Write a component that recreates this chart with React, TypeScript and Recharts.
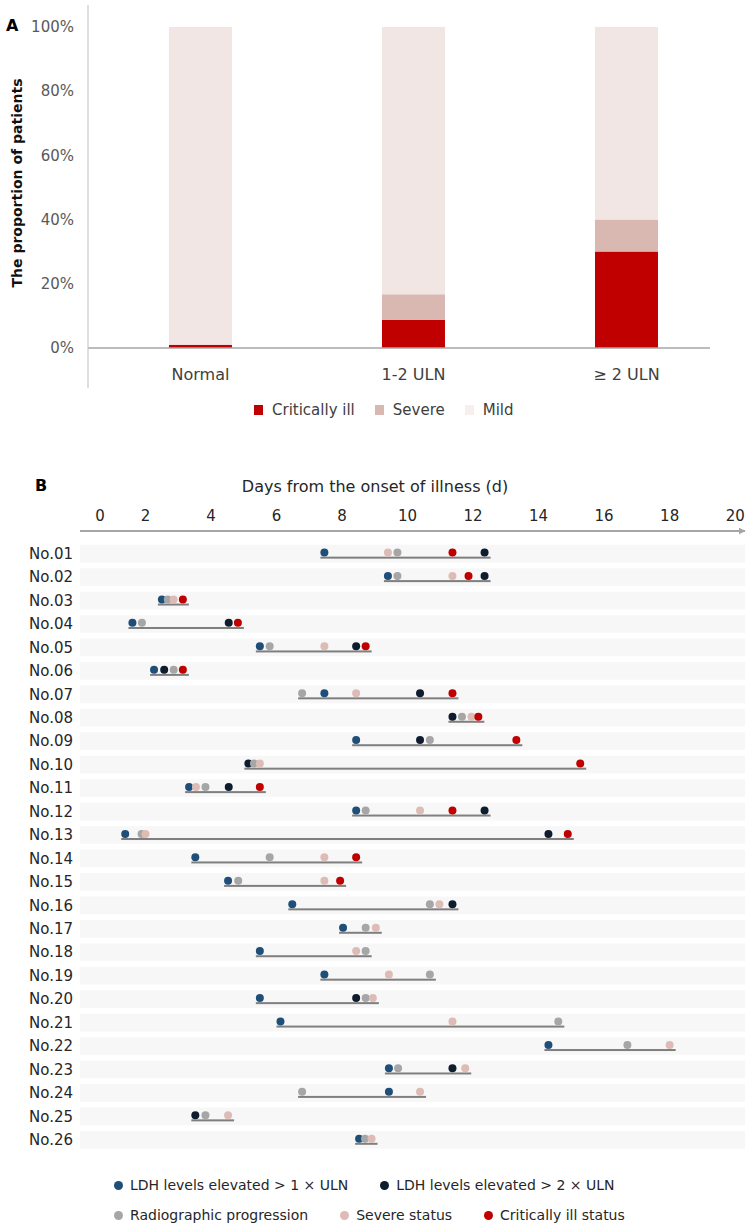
import React from 'react';
import { BarChart, Bar, XAxis, YAxis, ReferenceLine, ComposedChart, Scatter } from 'recharts';

const FONT = '"DejaVu Sans", "Liberation Sans", sans-serif';

// ---- Panel A: proportion of patients by LDH level ----
const ldhGroups = ['Normal', '1-2 ULN', '≥ 2 ULN'];
const criticalPct = [1, 8.7, 30];
const severePct = [0, 8, 10];
const mildPct = [99, 83.3, 60];
const pctTicks = [0, 20, 40, 60, 80, 100];

// ---- Panel B: timeline per patient (days from onset) ----
const patients = [
  'No.01', 'No.02', 'No.03', 'No.04', 'No.05', 'No.06', 'No.07', 'No.08', 'No.09', 'No.10',
  'No.11', 'No.12', 'No.13', 'No.14', 'No.15', 'No.16', 'No.17', 'No.18', 'No.19', 'No.20',
  'No.21', 'No.22', 'No.23', 'No.24', 'No.25', 'No.26',
];
const ldhOver1 = [
  7.46, 9.4, 2.5, 1.6, 5.49, 2.26, 7.46, null, 8.43, null,
  3.33, 8.43, 1.38, 3.52, 4.52, 6.48, 8.03, 5.49, 7.46, 5.49,
  6.12, 14.3, 9.43, 9.43, null, 8.52,
];
const ldhOver2 = [
  12.35, 12.35, null, 4.54, 8.43, 2.57, 10.38, 11.37, 10.38, 5.14,
  4.54, 12.35, 14.3, null, null, 11.37, null, null, null, 8.43,
  null, null, 11.37, null, 3.52, null,
];
const radiographic = [
  9.69, 9.69, 2.68, 1.89, 5.79, 2.86, 6.78, 11.66, 10.68, 5.31,
  3.83, 8.72, 1.88, 5.79, 4.83, 10.68, 8.72, 8.72, 10.68, 8.72,
  14.6, 16.71, 9.71, 6.78, 3.83, 8.7,
];
const severeStatus = [
  9.4, 11.37, 2.86, null, 7.46, null, 8.43, 11.95, null, 5.49,
  3.54, 10.38, 2.0, 7.46, 7.46, 10.97, 9.03, 8.43, 9.43, 8.94,
  11.37, 18.0, 11.76, 10.38, 4.52, 8.9,
];
const criticalStatus = [
  11.37, 11.86, 3.14, 4.82, 8.72, 3.14, 11.37, 12.16, 13.32, 15.27,
  5.49, 11.37, 14.89, 8.43, 7.94, null, null, null, null, null,
  null, null, null, null, null, null,
];
const dayTicks = [0, 2, 4, 6, 8, 10, 12, 14, 16, 18, 20];

const dotSeries = [
  { key: 'ldh1', name: 'LDH levels elevated > 1 × ULN', color: '#1F4E79' },
  { key: 'ldh2', name: 'LDH levels elevated > 2 × ULN', color: '#0E1D2E' },
  { key: 'radio', name: 'Radiographic progression', color: '#A6A6A6' },
  { key: 'severe', name: 'Severe status', color: '#DDBCB5' },
  { key: 'critical', name: 'Critically ill status', color: '#C00000' },
];

const barData = ldhGroups.map((group, i) => ({
  idx: i,
  group,
  critical: criticalPct[i],
  severe: severePct[i],
  mild: mildPct[i],
}));

const rows = patients.map((name, i) => {
  const vals = [ldhOver1[i], ldhOver2[i], radiographic[i], severeStatus[i], criticalStatus[i]].filter(
    (v) => v !== null
  ) as number[];
  return {
    name,
    ldh1: ldhOver1[i],
    ldh2: ldhOver2[i],
    radio: radiographic[i],
    severe: severeStatus[i],
    critical: criticalStatus[i],
    span: [Math.min(...vals), Math.max(...vals)],
  };
});

const makeDot = (color: string) => (props: any) => {
  const { cx, cy } = props;
  if (cx == null || cy == null || Number.isNaN(cx)) return <g />;
  return <circle cx={cx} cy={cy - 1} r={4} fill={color} />;
};

// thin grey line under the dots, from first to last event
const SpanLine = (props: any) => {
  const { x, y, width, height } = props;
  if (x == null || Number.isNaN(x)) return <g />;
  return <rect x={x - 4} y={y + height / 2 + 3} width={width + 10} height={2} fill="#7F7F7F" />;
};

// the "0" label sits a little right of the axis origin in the original figure
const DayTick = (props: any) => {
  const { x, y, payload } = props;
  return (
    <text x={x + (payload.value === 0 ? 20 : 0)} y={y} textAnchor="middle" fontSize={15} fill="#262626">
      {payload.value}
    </text>
  );
};

const abs = (left: number, top: number, extra: React.CSSProperties = {}): React.CSSProperties => ({
  position: 'absolute',
  left,
  top,
  whiteSpace: 'nowrap',
  ...extra,
});

function LegendA() {
  const items = [
    { label: 'Critically ill', color: '#C00000' },
    { label: 'Severe', color: '#D9B8B2' },
    { label: 'Mild', color: '#F7EFEE' },
  ];
  return (
    <div style={abs(254, 400, { display: 'flex', alignItems: 'center', fontSize: 15, lineHeight: '20px', color: '#404040' })}>
      {items.map((it) => (
        <div key={it.label} style={{ display: 'flex', alignItems: 'center', marginRight: 20 }}>
          <span style={{ width: 9, height: 10, background: it.color, marginRight: 9, display: 'inline-block' }} />
          {it.label}
        </div>
      ))}
    </div>
  );
}

function LegendB() {
  const lines = [dotSeries.slice(0, 2), dotSeries.slice(2)];
  return (
    <div style={abs(114, 1170, { fontSize: 14, lineHeight: '20px', color: '#262626' })}>
      {lines.map((line, li) => (
        <div key={li} style={{ display: 'flex', alignItems: 'center', height: 30 }}>
          {line.map((s) => (
            <div key={s.key} style={{ display: 'flex', alignItems: 'center', marginRight: 32 }}>
              <span
                style={{ width: 9, height: 9, borderRadius: '50%', background: s.color, marginRight: 7, display: 'inline-block' }}
              />
              {s.name}
            </div>
          ))}
        </div>
      ))}
    </div>
  );
}

export default function App() {
  return (
    <div style={{ position: 'absolute', left: 0, top: 0, width: 750, height: 1228, background: '#fff', fontFamily: FONT, color: '#262626' }}>
      <svg width={0} height={0} style={{ position: 'absolute' }}>
        <defs>
          <marker id="dayArrow" viewBox="0 0 10 10" refX="9" refY="5" markerWidth="3.5" markerHeight="3.5" orient="auto">
            <path d="M0,0 L10,5 L0,10 z" fill="#A6A6A6" />
          </marker>
        </defs>
      </svg>

      {/* Panel A */}
      <div style={abs(6, 16, { fontWeight: 'bold', fontSize: 16, lineHeight: '20px', color: '#000' })}>A</div>
      <div
        style={abs(17, 183, {
          transform: 'translate(-50%, -50%) rotate(-90deg)',
          fontWeight: 'bold',
          fontSize: 14,
          lineHeight: '18px',
          color: '#111',
        })}
      >
        The proportion of patients
      </div>
      <div style={abs(0, 0)}>
        <BarChart width={750} height={440} data={barData} margin={{ top: 5, right: 40, bottom: 22, left: 10 }}>
          <XAxis
            type="number"
            dataKey="idx"
            domain={[-0.528, 2.392]}
            ticks={[0, 1, 2]}
            interval={0}
            tickFormatter={(v: number) => ldhGroups[v]}
            axisLine={false}
            tickLine={false}
            tickMargin={-25}
            height={30}
            tick={{ fontSize: 16, fill: '#404040' }}
          />
          <YAxis
            type="number"
            domain={[-12.5, 106.85]}
            ticks={pctTicks}
            interval={0}
            tickFormatter={(v: number) => `${v}%`}
            axisLine={{ stroke: '#BFBFBF' }}
            tickLine={false}
            tickMargin={8}
            width={78}
            tick={{ fontSize: 15, fill: '#595959' }}
          />
          <Bar dataKey="critical" stackId="a" fill="#C00000" barSize={63} isAnimationActive={false} />
          <Bar dataKey="severe" stackId="a" fill="#D9B8B2" barSize={63} isAnimationActive={false} />
          <Bar dataKey="mild" stackId="a" fill="#F2E6E4" barSize={63} isAnimationActive={false} />
          <ReferenceLine y={0} stroke="#A6A6A6" strokeWidth={1.5} />
        </BarChart>
      </div>
      <LegendA />

      {/* Panel B */}
      <div style={abs(35, 476, { fontWeight: 'bold', fontSize: 16, lineHeight: '20px', color: '#000' })}>B</div>
      <div style={abs(0, 477, { width: 750, textAlign: 'center', fontSize: 16, lineHeight: '20px' })}>
        Days from the onset of illness (d)
      </div>
      <div style={abs(0, 440)}>
        <ComposedChart
          width={750}
          height={720}
          data={rows}
          layout="vertical"
          margin={{ top: 61, right: 5, bottom: 8.6, left: 5 }}
        >
          <XAxis
            type="number"
            orientation="top"
            domain={[0, 20.3]}
            ticks={dayTicks}
            interval={0}
            allowDataOverflow
            axisLine={{ stroke: '#A6A6A6', strokeWidth: 2, markerEnd: 'url(#dayArrow)' }}
            tickLine={false}
            tickMargin={4}
            height={30}
            tick={DayTick}
          />
          <YAxis
            type="category"
            dataKey="name"
            allowDuplicatedCategory={false}
            padding={{ top: 10.8, bottom: 0 }}
            interval={0}
            axisLine={false}
            tickLine={false}
            tickMargin={1}
            width={75}
            tick={{ fontSize: 15, fill: '#262626' }}
          />
          <Bar
            dataKey="span"
            barSize={17.7}
            background={{ fill: '#F7F7F7' }}
            shape={SpanLine}
            isAnimationActive={false}
          />
          {dotSeries.map((s) => (
            <Scatter
              key={s.key}
              name={s.name}
              data={rows}
              dataKey={s.key}
              shape={makeDot(s.color)}
              isAnimationActive={false}
            />
          ))}
        </ComposedChart>
      </div>
      <LegendB />
    </div>
  );
}
